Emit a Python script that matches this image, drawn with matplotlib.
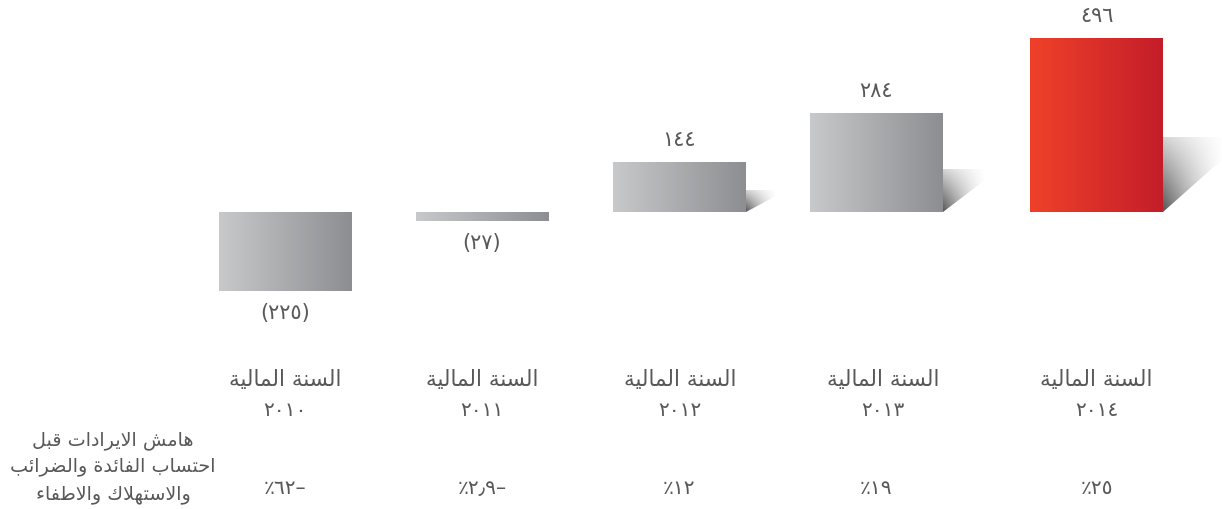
import numpy as np
import matplotlib
matplotlib.use("Agg")
import matplotlib.pyplot as plt
import matplotlib.transforms as mtransforms
from matplotlib.patches import Polygon

# ---------------- data ----------------
years = ["\u0662\u0660\u0661\u0660", "\u0662\u0660\u0661\u0661", "\u0662\u0660\u0661\u0662",
         "\u0662\u0660\u0661\u0663", "\u0662\u0660\u0661\u0664"]
values = [-225, -27, 144, 284, 496]
value_labels = ["(\u0662\u0662\u0665)", "(\u0662\u0667)", "\u0661\u0664\u0664",
                "\u0662\u0668\u0664", "\u0664\u0669\u0666"]
# drawn left to right as in the reference: percent sign, digits, minus
margin_labels = ["\u066a\u0666\u0662\u2013", "\u066a\u0662\u066b\u0669\u2013",
                 "\u066a\u0661\u0662", "\u066a\u0661\u0669", "\u066a\u0662\u0665"]
category_word = "السنة المالية"
row_title = ["هامش الايرادات قبل", "احتساب الفائدة والضرائب", "والاستهلاك والاطفاء"]
highlight = [False, False, False, False, True]

# ---------------- simple Arabic shaping (presentation forms, visual order) ----------------
DUAL = {'ب': 0xFE8F, 'ت': 0xFE95, 'ح': 0xFEA1, 'س': 0xFEB1, 'ش': 0xFEB5, 'ض': 0xFEBD,
        'ط': 0xFEC1, 'ف': 0xFED1, 'ق': 0xFED5, 'ك': 0xFED9, 'ل': 0xFEDD, 'م': 0xFEE1,
        'ن': 0xFEE5, 'ه': 0xFEE9, 'ي': 0xFEF1, 'ئ': 0xFE89}
RIGHT = {'ا': 0xFE8D, 'ة': 0xFE93, 'د': 0xFEA9, 'ر': 0xFEAD, 'و': 0xFEED, 'LA': 0xFEFB}
NONE = {'ء': 0xFE80}


def shape(text):
    chars = []
    i = 0
    while i < len(text):
        if text[i] == 'ل' and i + 1 < len(text) and text[i + 1] == 'ا':
            chars.append('LA')
            i += 2
        else:
            chars.append(text[i])
            i += 1
    out = []
    for k, c in enumerate(chars):
        prev = chars[k - 1] if k > 0 else None
        nxt = chars[k + 1] if k + 1 < len(chars) else None
        join_prev = prev in DUAL and (c in DUAL or c in RIGHT)
        join_next = c in DUAL and (nxt in DUAL or nxt in RIGHT)
        if c in DUAL:
            base = DUAL[c]
            off = 3 if (join_prev and join_next) else 1 if join_prev else 2 if join_next else 0
            out.append(chr(base + off))
        elif c in RIGHT:
            out.append(chr(RIGHT[c] + (1 if join_prev else 0)))
        elif c in NONE:
            out.append(chr(NONE[c]))
        else:
            out.append(c)
    return ''.join(out[::-1])


# ---------------- figure ----------------
W, H = 1222, 509
fig = plt.figure(figsize=(W / 100, H / 100), dpi=100)
ax = fig.add_axes([0, 0, 1, 1])
ax.axis('off')

XPX0, XSTEP = 285, 197      # px of first bar centre, px per category
ZERO_PX, YSCALE = 212, 0.35  # px of zero line from top, px per unit
xpos = [0, 1, 2, 3, 4.12]
bw = 133 / XSTEP

xlim = (-XPX0 / XSTEP, (W - XPX0) / XSTEP)
ylim = (-(H - ZERO_PX) / YSCALE, ZERO_PX / YSCALE)

TXT = '#585858'
FONT = 'DejaVu Sans'

grey_l, grey_r = np.array([0.784, 0.788, 0.796]), np.array([0.553, 0.557, 0.569])
red_l, red_r = np.array([0.937, 0.255, 0.161]), np.array([0.769, 0.114, 0.165])

bars = ax.bar(xpos, values, width=bw, color='none', edgecolor='none', zorder=3)

for b, v, hl in zip(bars, values, highlight):
    x0, y0 = b.get_x(), b.get_y()
    x1, y1 = x0 + b.get_width(), y0 + b.get_height()
    cl, cr = (red_l, red_r) if hl else (grey_l, grey_r)
    t = np.linspace(0, 1, 256)[None, :, None]
    img = cl[None, None, :] * (1 - t) + cr[None, None, :] * t
    im = ax.imshow(img, extent=[x0, x1, min(y0, y1), max(y0, y1)], aspect='auto',
                   origin='lower', zorder=3, interpolation='bilinear')
    im.set_clip_path(b)
    # floor shadow for positive bars
    if v > 0:
        h_px = v * YSCALE
        sh = 0.43 * h_px / YSCALE
        sw = (18 + 0.25 * h_px) / XSTEP
        poly = Polygon([(x1, 0), (x1, sh), (x1 + sw, sh), (x1 + sw, 0.74 * sh)],
                       closed=True, facecolor='none', edgecolor='none')
        ax.add_patch(poly)
        u = np.linspace(0, 1, 200)[None, :]
        vv = np.linspace(0, 1, 120)[:, None]
        alpha = np.clip((1 - u) ** 1.3 * (0.25 + 0.75 * (1 - vv)), 0, 1)
        simg = np.zeros((120, 200, 4))
        simg[..., :3] = 0.33
        simg[..., 3] = alpha
        sim = ax.imshow(simg, extent=[x1, x1 + sw, 0, sh], aspect='auto',
                        origin='lower', zorder=2, interpolation='bilinear')
        sim.set_clip_path(poly)

# value labels
for x, v, lab in zip(xpos, values, value_labels):
    off = 22 * 0.72
    ax.annotate(lab, (x, v), xytext=(0, off if v > 0 else -off), textcoords='offset points',
                ha='center', va='center', fontsize=15, color=TXT, family=FONT, zorder=5)

# category labels and margin row
trans = mtransforms.blended_transform_factory(ax.transData, fig.transFigure)
cat_shift = [0, 0, 0.005, 0.035, 0]
for x, yr, mg, cs in zip(xpos, years, margin_labels, cat_shift):
    ax.text(x + cs, 1 - 380 / H, shape(category_word), transform=trans, ha='center', va='center',
            fontsize=15.5, color=TXT, family=FONT)
    ax.text(x + cs, 1 - 411 / H, yr, transform=trans, ha='center', va='center',
            fontsize=14.5, color=TXT, family=FONT)
    ax.text(x, 1 - 488 / H, mg, transform=trans, ha='center', va='center',
            fontsize=14.5, color=TXT, family=FONT)

for line, ypx in zip(row_title, [440, 467, 494]):
    fig.text(113 / W, 1 - ypx / H, shape(line), ha='center', va='center',
             fontsize=13.8, color=TXT, family=FONT)

ax.set_xlim(*xlim)
ax.set_ylim(*ylim)
fig.savefig('out.png', dpi=100)
